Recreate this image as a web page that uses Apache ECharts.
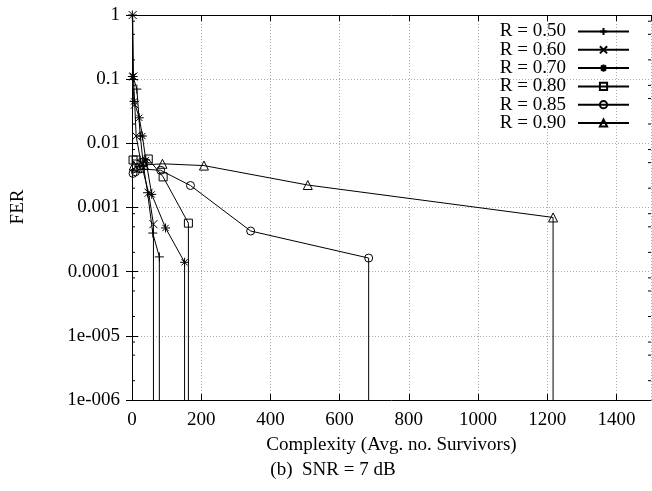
<!DOCTYPE html>
<html>
<head>
<meta charset="utf-8">
<script src="https://cdn.jsdelivr.net/npm/echarts@6/dist/echarts.min.js"></script>
<style>
  html, body { margin: 0; padding: 0; background: #fff; }
  #chart { width: 652px; height: 491px; }
</style>
</head>
<body>
<div id="chart"></div>
<script>
// ---- data (FER vs. average number of survivors); 0 = no frame errors observed ----
const seriesNames = ['R = 0.50', 'R = 0.60', 'R = 0.70', 'R = 0.80', 'R = 0.85', 'R = 0.90'];

const r050X = [1, 3, 14, 24, 33, 45, 60, 79, 79];
const r050Y = [1, 0.11, 0.07, 0.013, 0.0045, 0.0017, 0.0004, 0.00017, 0];

const r060X = [2, 4, 8, 12, 26, 48, 62, 62];
const r060Y = [1, 0.11, 0.04, 0.013, 0.005, 0.0017, 0.00055, 0];

const r070X = [1, 6, 21, 30, 40, 57, 97, 152, 152];
const r070Y = [0.11, 0.045, 0.025, 0.013, 0.0055, 0.0016, 0.00048, 0.00014, 0];

const r080X = [3, 12, 32, 47, 90, 163, 163];
const r080Y = [0.0055, 0.0055, 0.005, 0.0057, 0.003, 0.00057, 0];

const r085X = [3, 10, 25, 83, 169, 343, 684, 684];
const r085Y = [0.0034, 0.0036, 0.004, 0.0038, 0.0022, 0.00043, 0.000163, 0];

const r090X = [5, 15, 35, 88, 208, 508, 1217, 1217];
const r090Y = [0.0045, 0.0042, 0.0046, 0.0048, 0.0045, 0.00224, 0.0007, 0];

// axis ticks
const xTicks = [0, 200, 400, 600, 800, 1000, 1200, 1400];
const yMin = 1e-6, yMax = 1;
const minorMantissas = [2, 5, 8];

// ---- styling ----
const FONT = 'Liberation Serif';
const FS = 19;
const ZERO_FLOOR = 1e-12; // zero FER drawn as a drop below the axis

const symbols = [
  'path://M0,5L10,5M5,0L5,10',
  'path://M0,0L10,10M10,0L0,10',
  'path://M0,5L10,5M5,0L5,10M1.5,1.5L8.5,8.5M8.5,1.5L1.5,8.5',
  'rect',
  'circle',
  'triangle'
];
const symbolSizes = [9, 8, 9, 8, 8, 9];

const xs = [r050X, r060X, r070X, r080X, r085X, r090X];
const ys = [r050Y, r060Y, r070Y, r080Y, r085Y, r090Y];

const lineSeries = seriesNames.map((name, i) => ({
  name,
  type: 'line',
  data: xs[i].map((x, j) => [x, ys[i][j] > 0 ? ys[i][j] : ZERO_FLOOR]),
  symbol: symbols[i],
  symbolSize: symbolSizes[i],
  showAllSymbol: true,
  clip: true,
  animation: false,
  lineStyle: { color: '#000', width: 1 },
  itemStyle: { color: 'none', borderColor: '#000', borderWidth: 1 },
  emphasis: { disabled: true }
}));

// minor ticks of the log axis (drawn on left and right borders)
const minorVals = [];
for (let k = -6; k < 0; k++) {
  minorMantissas.forEach(m => minorVals.push([0, m * Math.pow(10, k)]));
}
const minorTickSeries = {
  type: 'custom',
  silent: true,
  animation: false,
  clip: false,
  data: minorVals,
  renderItem: (params, api) => {
    const p = api.coord([0, api.value(1)]);
    const cs = params.coordSys;
    const len = 3;
    return {
      type: 'group',
      children: [
        { type: 'line', shape: { x1: cs.x, y1: p[1], x2: cs.x + len, y2: p[1] }, style: { stroke: '#000', lineWidth: 1 } },
        { type: 'line', shape: { x1: cs.x + cs.width - len, y1: p[1], x2: cs.x + cs.width, y2: p[1] }, style: { stroke: '#000', lineWidth: 1 } }
      ]
    };
  }
};

function fmtY(v) {
  const k = Math.round(Math.log10(v));
  if (k === 0) return '1';
  if (k >= -4) return '0.' + '0'.repeat(-k - 1) + '1';
  return '1e-' + String(-k).padStart(3, '0');
}

const textStyle = { fontFamily: FONT, fontSize: FS, color: '#000' };

const commonX = {
  type: 'value', min: 0, max: 1500, interval: 200,
  axisLine: { show: true, lineStyle: { color: '#000', width: 1 } },
  axisTick: { show: true, inside: true, length: 6, lineStyle: { color: '#000' } }
};
const commonY = {
  type: 'log', logBase: 10, min: yMin, max: yMax,
  axisLine: { show: true, lineStyle: { color: '#000', width: 1 } },
  axisTick: { show: true, inside: true, length: 6, lineStyle: { color: '#000' } }
};

const chart = echarts.init(document.getElementById('chart'), null, { renderer: 'canvas' });
chart.setOption({
  animation: false,
  backgroundColor: '#fff',
  textStyle: { fontFamily: FONT },
  grid: { left: 132, right: 1, top: 15, bottom: 91, containLabel: false },
  legend: {
    data: seriesNames,
    orient: 'vertical',
    right: 17,
    top: 17,
    align: 'right',
    itemWidth: 51,
    itemHeight: 9,
    itemGap: -0.7,
    selectedMode: false,
    textStyle: Object.assign({}, textStyle, { lineHeight: 17, padding: [0, 7, 0, 0] })
  },
  xAxis: [
    Object.assign({}, commonX, {
      position: 'bottom',
      name: 'Complexity (Avg. no. Survivors)',
      nameLocation: 'middle',
      nameGap: 36,
      nameTextStyle: textStyle,
      axisLabel: Object.assign({}, textStyle, { margin: 11, showMaxLabel: false,
        formatter: v => (xTicks.indexOf(v) >= 0 ? String(v) : '') }),
      splitLine: { show: true, lineStyle: { color: '#aaa', type: [1, 2], width: 1 } }
    }),
    Object.assign({}, commonX, {
      position: 'top',
      axisLabel: { show: false },
      splitLine: { show: false }
    })
  ],
  yAxis: [
    Object.assign({}, commonY, {
      position: 'left',
      axisLabel: Object.assign({}, textStyle, { margin: 12, formatter: fmtY }),
      splitLine: { show: true, lineStyle: { color: '#aaa', type: [1, 2], width: 1 } }
    }),
    Object.assign({}, commonY, {
      position: 'right',
      axisLabel: { show: false },
      splitLine: { show: false }
    })
  ],
  graphic: [
    { type: 'text', x: 18, y: 207, rotation: Math.PI / 2,
      style: { text: 'FER', font: FS + 'px "' + FONT + '"', fill: '#000', align: 'center', verticalAlign: 'middle' } },
    { type: 'text', x: 333, y: 470,
      style: { text: '(b)  SNR = 7 dB', font: FS + 'px "' + FONT + '"', fill: '#000', align: 'center', verticalAlign: 'middle' } }
  ],
  series: lineSeries.concat([minorTickSeries])
});
</script>
</body>
</html>
